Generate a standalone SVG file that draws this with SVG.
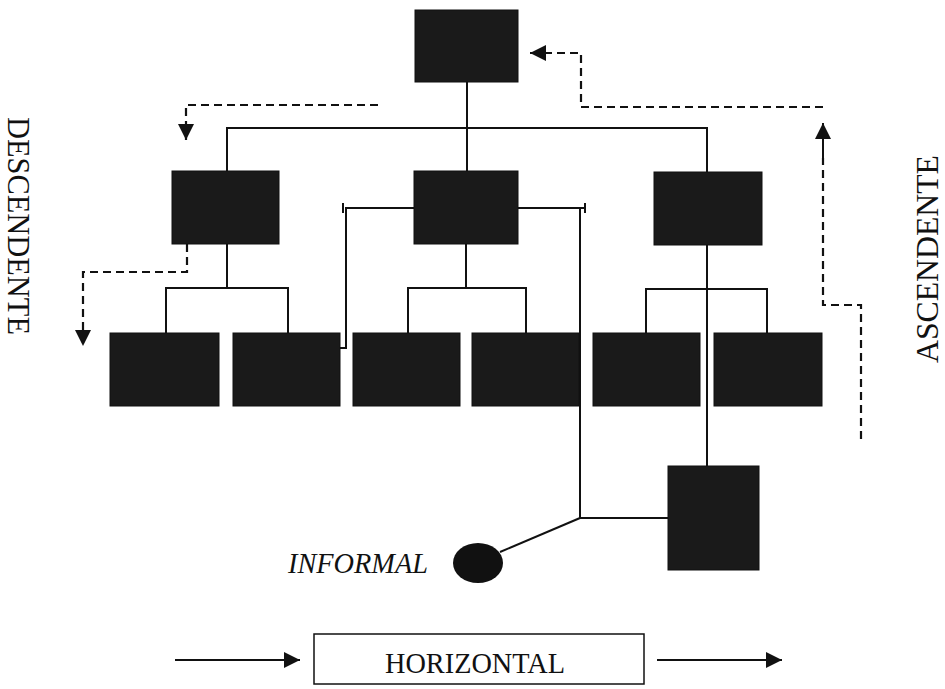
<svg xmlns="http://www.w3.org/2000/svg" width="945" height="689" viewBox="0 0 945 689">
<style>
.box{fill:#1a1a1a;stroke:#111;stroke-width:1}
.ln{fill:none;stroke:#111;stroke-width:2}
.ds{fill:none;stroke:#111;stroke-width:2.2;stroke-dasharray:8 5}
.lbl{font-family:"Liberation Serif","Times New Roman",serif;fill:#111}
</style>
<defs>
<marker id="ahb" viewBox="0 0 10 10" refX="10" refY="5" markerWidth="16" markerHeight="16" markerUnits="userSpaceOnUse" orient="auto">
<path d="M0,0 L10,5 L0,10 z" fill="#111"/>
</marker>
</defs>
<rect width="945" height="689" fill="#fff"/>
<g id="connectors">
<path class="ln" d="M467,82 V171"/>
<path class="ln" d="M227,171 V128 H707 V172"/>
<path class="ln" d="M227,244 V288"/>
<path class="ln" d="M166,333 V288 H288 V333"/>
<path class="ln" d="M466,244 V288"/>
<path class="ln" d="M408,333 V288 H526 V333"/>
<path class="ln" d="M707,245 V466"/>
<path class="ln" d="M646,333 V289 H767 V333"/>
<path class="ln" d="M414,208 H346 V348 H340"/>
<path class="ln" d="M343,203 V213"/>
<path class="ln" d="M518,208 H585"/>
<path class="ln" d="M585,203 V213"/>
<path class="ln" d="M580,208 V518 H668"/>
<path class="ln" d="M580,518 L500,552"/>
<path class="ds" d="M378,105 H186 V140" marker-end="url(#ahb)"/>
<path class="ds" d="M187,244 V272 H83 V346" marker-end="url(#ahb)"/>
<path class="ds" d="M861,439 V305 H823 V158"/>
<path class="ln" d="M823,160 V123" marker-end="url(#ahb)"/>
<path class="ds" d="M823,107 H581 V53 H546"/>
<path class="ln" d="M548,53 H530" marker-end="url(#ahb)"/>
<path class="ln" d="M175,660 H300" marker-end="url(#ahb)"/>
<path class="ln" d="M657,660 H782" marker-end="url(#ahb)"/>
</g>
<g id="n-top"><rect class="box" x="415" y="10" width="103" height="72"/></g>
<g id="n-l2a"><rect class="box" x="172" y="171" width="107" height="73"/></g>
<g id="n-l2b"><rect class="box" x="414" y="171" width="104" height="73"/></g>
<g id="n-l2c"><rect class="box" x="654" y="172" width="108" height="73"/></g>
<g id="n-l3a"><rect class="box" x="110" y="333" width="109" height="73"/></g>
<g id="n-l3b"><rect class="box" x="233" y="333" width="107" height="73"/></g>
<g id="n-l3c"><rect class="box" x="353" y="333" width="107" height="73"/></g>
<g id="n-l3d"><rect class="box" x="472" y="333" width="107" height="73"/></g>
<g id="n-l3e"><rect class="box" x="593" y="333" width="107" height="73"/></g>
<g id="n-l3f"><rect class="box" x="714" y="333" width="108" height="73"/></g>
<g id="n-bottom"><rect class="box" x="668" y="466" width="91" height="104"/></g>
<g id="n-informal">
<ellipse cx="478" cy="563" rx="25" ry="20" fill="#111"/>
<text class="lbl" x="288" y="573" font-size="29" font-style="italic" textLength="140" lengthAdjust="spacingAndGlyphs">INFORMAL</text>
</g>
<g id="n-horizontal">
<rect x="314" y="634" width="330" height="50" fill="#fff" stroke="#111" stroke-width="1.5"/>
<text class="lbl" x="475" y="673" font-size="30" text-anchor="middle" textLength="180" lengthAdjust="spacingAndGlyphs">HORIZONTAL</text>
</g>
<g id="n-descendente">
<text class="lbl" transform="translate(8,226) rotate(90)" font-size="32" text-anchor="middle" textLength="218" lengthAdjust="spacingAndGlyphs">DESCENDENTE</text>
</g>
<g id="n-ascendente">
<text class="lbl" transform="translate(938,259) rotate(-90)" font-size="31" text-anchor="middle" textLength="208" lengthAdjust="spacingAndGlyphs">ASCENDENTE</text>
</g>
</svg>
